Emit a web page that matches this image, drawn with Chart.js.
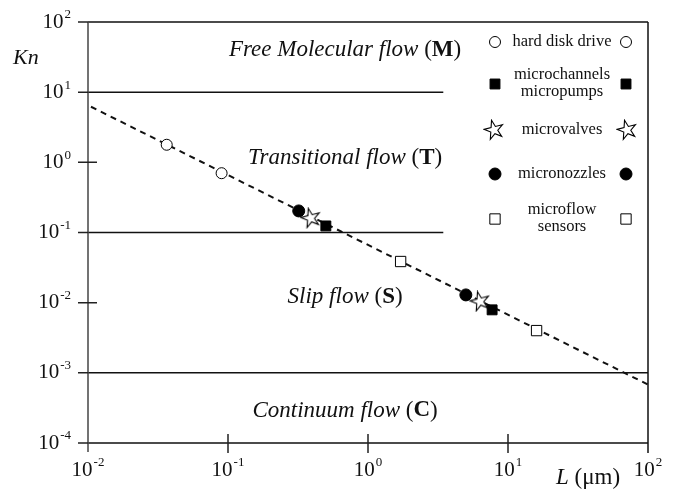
<!DOCTYPE html>
<html>
<head>
<meta charset="utf-8">
<script src="https://cdn.jsdelivr.net/npm/chart.js@4.4.0/dist/chart.umd.min.js"></script>
<style>
  html, body { margin: 0; padding: 0; background: #fff; }
</style>
</head>
<body>
<canvas id="knChart" width="680" height="491"></canvas>
<script>
// Knudsen number against characteristic length for MEMS devices
const hddL = [0.0365, 0.09];
const hddKn = [1.78, 0.70];
const channelL = [0.50, 7.7];
const channelKn = [0.124, 0.0079];
const valveL = [0.39, 6.3];
const valveKn = [0.16, 0.0104];
const nozzleL = [0.32, 5.0];
const nozzleKn = [0.203, 0.0129];
const sensorL = [1.71, 16];
const sensorKn = [0.0386, 0.0040];

// Kn = lambda / L trend line
const trendL = [0.0105, 100];
const trendKn = [6.2, 0.00068];

// regime boundaries: two stop short of the legend, one runs full width
const shortBoundaryKn = [10, 0.1];
const shortBoundaryL = [0.01, 3.45];
const longBoundaryKn = [0.001];
const longBoundaryL = [0.01, 100];

const xTickExp = [-2, -1, 0, 1, 2];
const yTickExp = [2, 1, 0, -1, -2, -3, -4];

const regimeNames = ['Free Molecular flow', 'Transitional flow', 'Slip flow', 'Continuum flow'];
const regimeTags = ['M', 'T', 'S', 'C'];
const regimeKn = [40, 1.15, 0.012, 0.00029];
const regimeL = 0.686;

const legendNames = [['hard disk drive'], ['microchannels', 'micropumps'], ['microvalves'], ['micronozzles'], ['microflow', 'sensors']];

const SERIF = '"Liberation Serif", "DejaVu Serif", serif';

function pairs(xs, ys) {
    return xs.map((x, i) => ({ x: x, y: ys[i] }));
}

function makeStar(size, rot) {
    const c = document.createElement('canvas');
    c.width = size;
    c.height = size;
    const g = c.getContext('2d');
    const cx = size / 2, cy = size / 2;
    const ro = size / 2 - 1, ri = ro * 0.38;
    g.beginPath();
    for (let i = 0; i < 10; i++) {
        const r = i % 2 ? ri : ro;
        const a = -Math.PI / 2 + rot + i * Math.PI / 5;
        const px = cx + r * Math.cos(a), py = cy + r * Math.sin(a);
        if (i === 0) g.moveTo(px, py); else g.lineTo(px, py);
    }
    g.closePath();
    g.fillStyle = '#fff';
    g.fill();
    g.lineWidth = 1.1;
    g.strokeStyle = '#000';
    g.stroke();
    return c;
}

const starImg = makeStar(22, -0.25);

// marker looks, shared by the plot and the legend
const markers = [
    { style: 'circle', radius: 5.5, fill: '#fff' },
    { style: 'rect', radius: 7, fill: '#000' },
    { style: starImg, radius: 10, fill: '#fff' },
    { style: 'circle', radius: 6, fill: '#000' },
    { style: 'rect', radius: 7.3, fill: '#fff' }
];

function markerSet(label, xs, ys, m) {
    return {
        label: label,
        data: pairs(xs, ys),
        showLine: false,
        pointStyle: m.style,
        pointRadius: m.radius,
        pointHoverRadius: m.radius,
        pointBackgroundColor: m.fill,
        pointBorderColor: '#000',
        pointBorderWidth: 1,
        order: 1
    };
}

function lineSet(data, dash, width) {
    return {
        data: data,
        showLine: true,
        borderColor: '#111',
        borderWidth: width,
        borderDash: dash,
        pointRadius: 0,
        pointHoverRadius: 0,
        fill: false,
        order: 5
    };
}

function drawMarker(ctx, m, x, y) {
    ctx.save();
    if (m.style === starImg) {
        ctx.drawImage(starImg, x - starImg.width / 2, y - starImg.height / 2);
    } else {
        ctx.beginPath();
        if (m.style === 'circle') {
            ctx.arc(x, y, m.radius, 0, Math.PI * 2);
        } else {
            const s = m.radius * Math.SQRT1_2;
            ctx.rect(x - s, y - s, 2 * s, 2 * s);
        }
        ctx.fillStyle = m.fill;
        ctx.fill();
        ctx.lineWidth = 1;
        ctx.strokeStyle = '#000';
        ctx.stroke();
    }
    ctx.restore();
}

// "10" with a raised exponent
function powerWidth(ctx, exp) {
    ctx.font = '21px ' + SERIF;
    const w = ctx.measureText('10').width;
    ctx.font = '13px ' + SERIF;
    return w + ctx.measureText(exp < 0 ? '-' + (-exp) : String(exp)).width + 1;
}

function drawPower(ctx, exp, left, midY) {
    ctx.textAlign = 'left';
    ctx.textBaseline = 'middle';
    ctx.font = '21px ' + SERIF;
    ctx.fillText('10', left, midY);
    const w = ctx.measureText('10').width;
    ctx.font = '13px ' + SERIF;
    ctx.fillText(exp < 0 ? '-' + (-exp) : String(exp), left + w + 1, midY - 7);
}

function drawRegime(ctx, name, tag, cx, cy) {
    ctx.textBaseline = 'middle';
    ctx.textAlign = 'left';
    const parts = [
        { t: name + ' ', f: 'italic 23px ' + SERIF },
        { t: '(', f: '23px ' + SERIF },
        { t: tag, f: 'bold 23px ' + SERIF },
        { t: ')', f: '23px ' + SERIF }
    ];
    let total = 0;
    parts.forEach(p => { ctx.font = p.f; p.w = ctx.measureText(p.t).width; total += p.w; });
    let x = cx - total / 2;
    parts.forEach(p => { ctx.font = p.f; ctx.fillText(p.t, x, cy); x += p.w; });
}

const framePlugin = {
    id: 'frame',
    afterDraw(chart) {
        const ctx = chart.ctx;
        const xs = chart.scales.x, ys = chart.scales.y;
        const left = xs.getPixelForValue(0.01), right = xs.getPixelForValue(100);
        const top = ys.getPixelForValue(100), bottom = ys.getPixelForValue(1e-4);

        ctx.save();
        ctx.strokeStyle = '#111';
        ctx.lineWidth = 1.5;
        ctx.beginPath();
        ctx.moveTo(left, top); ctx.lineTo(right, top);
        ctx.moveTo(left, bottom); ctx.lineTo(right, bottom);
        ctx.moveTo(right, top); ctx.lineTo(right, bottom + 10);
        ctx.stroke();

        ctx.strokeStyle = '#444';
        ctx.beginPath();
        ctx.moveTo(left, top); ctx.lineTo(left, bottom + 9);
        ctx.stroke();

        // y ticks, outward; 10^0 and 10^-2 also reach inward
        ctx.strokeStyle = '#222';
        ctx.beginPath();
        yTickExp.forEach(e => {
            const py = ys.getPixelForValue(Math.pow(10, e));
            ctx.moveTo(left - 10, py);
            ctx.lineTo(e === 0 || e === -2 ? left + 9 : left, py);
        });
        // x ticks crossing the bottom line
        xTickExp.slice(1, -1).forEach(e => {
            const px = xs.getPixelForValue(Math.pow(10, e));
            ctx.moveTo(px, bottom - 9);
            ctx.lineTo(px, bottom + 10);
        });
        ctx.stroke();

        ctx.fillStyle = '#111';
        yTickExp.forEach(e => {
            const py = ys.getPixelForValue(Math.pow(10, e));
            drawPower(ctx, e, left - 17 - powerWidth(ctx, e), py);
        });
        xTickExp.forEach(e => {
            const px = xs.getPixelForValue(Math.pow(10, e));
            drawPower(ctx, e, px - powerWidth(ctx, e) / 2, bottom + 27);
        });

        // axis titles
        ctx.textBaseline = 'middle';
        ctx.textAlign = 'left';
        ctx.font = 'italic 22px ' + SERIF;
        ctx.fillText('Kn', 13, 58);
        ctx.font = 'italic 23px ' + SERIF;
        ctx.fillText('L', 556, 478);
        const lw = ctx.measureText('L').width;
        ctx.font = '23px ' + SERIF;
        ctx.fillText(' (\u03bcm)', 556 + lw, 478);

        // regime names
        regimeNames.forEach((n, i) => {
            drawRegime(ctx, n, regimeTags[i], xs.getPixelForValue(regimeL), ys.getPixelForValue(regimeKn[i]));
        });

        // legend, symbol on both sides of each name
        const legendY = [42, 84, 130, 174, 219];
        ctx.font = '16.5px ' + SERIF;
        ctx.textAlign = 'center';
        legendNames.forEach((lines, i) => {
            const y = legendY[i];
            lines.forEach((t, j) => {
                const ly = y + (j - (lines.length - 1) / 2) * 17 - (lines.length > 1 ? 1 : 0);
                ctx.fillText(t, 562, ly);
            });
            const off = i === 2 ? 68 : 67;
            drawMarker(ctx, markers[i], 562 - off, y);
            drawMarker(ctx, markers[i], 562 + off - 3, y);
        });
        ctx.restore();
    }
};

const datasets = [
    markerSet('hard disk drive', hddL, hddKn, markers[0]),
    markerSet('microchannels micropumps', channelL, channelKn, markers[1]),
    markerSet('microvalves', valveL, valveKn, markers[2]),
    markerSet('micronozzles', nozzleL, nozzleKn, markers[3]),
    markerSet('microflow sensors', sensorL, sensorKn, markers[4]),
    lineSet(pairs(trendL, trendKn), [6, 5], 2)
];
shortBoundaryKn.forEach(k => {
    datasets.push(lineSet(shortBoundaryL.map(l => ({ x: l, y: k })), [], 1.5));
});
longBoundaryKn.forEach(k => {
    datasets.push(lineSet(longBoundaryL.map(l => ({ x: l, y: k })), [], 1.5));
});

new Chart(document.getElementById('knChart'), {
    type: 'scatter',
    data: { datasets: datasets },
    options: {
        responsive: false,
        animation: false,
        layout: { padding: { left: 88, right: 32, top: 22, bottom: 48 } },
        plugins: { legend: { display: false }, tooltip: { enabled: false } },
        scales: {
            x: { type: 'logarithmic', min: 0.01, max: 100, display: false },
            y: { type: 'logarithmic', min: 1e-4, max: 100, display: false }
        }
    },
    plugins: [framePlugin]
});
</script>
</body>
</html>
